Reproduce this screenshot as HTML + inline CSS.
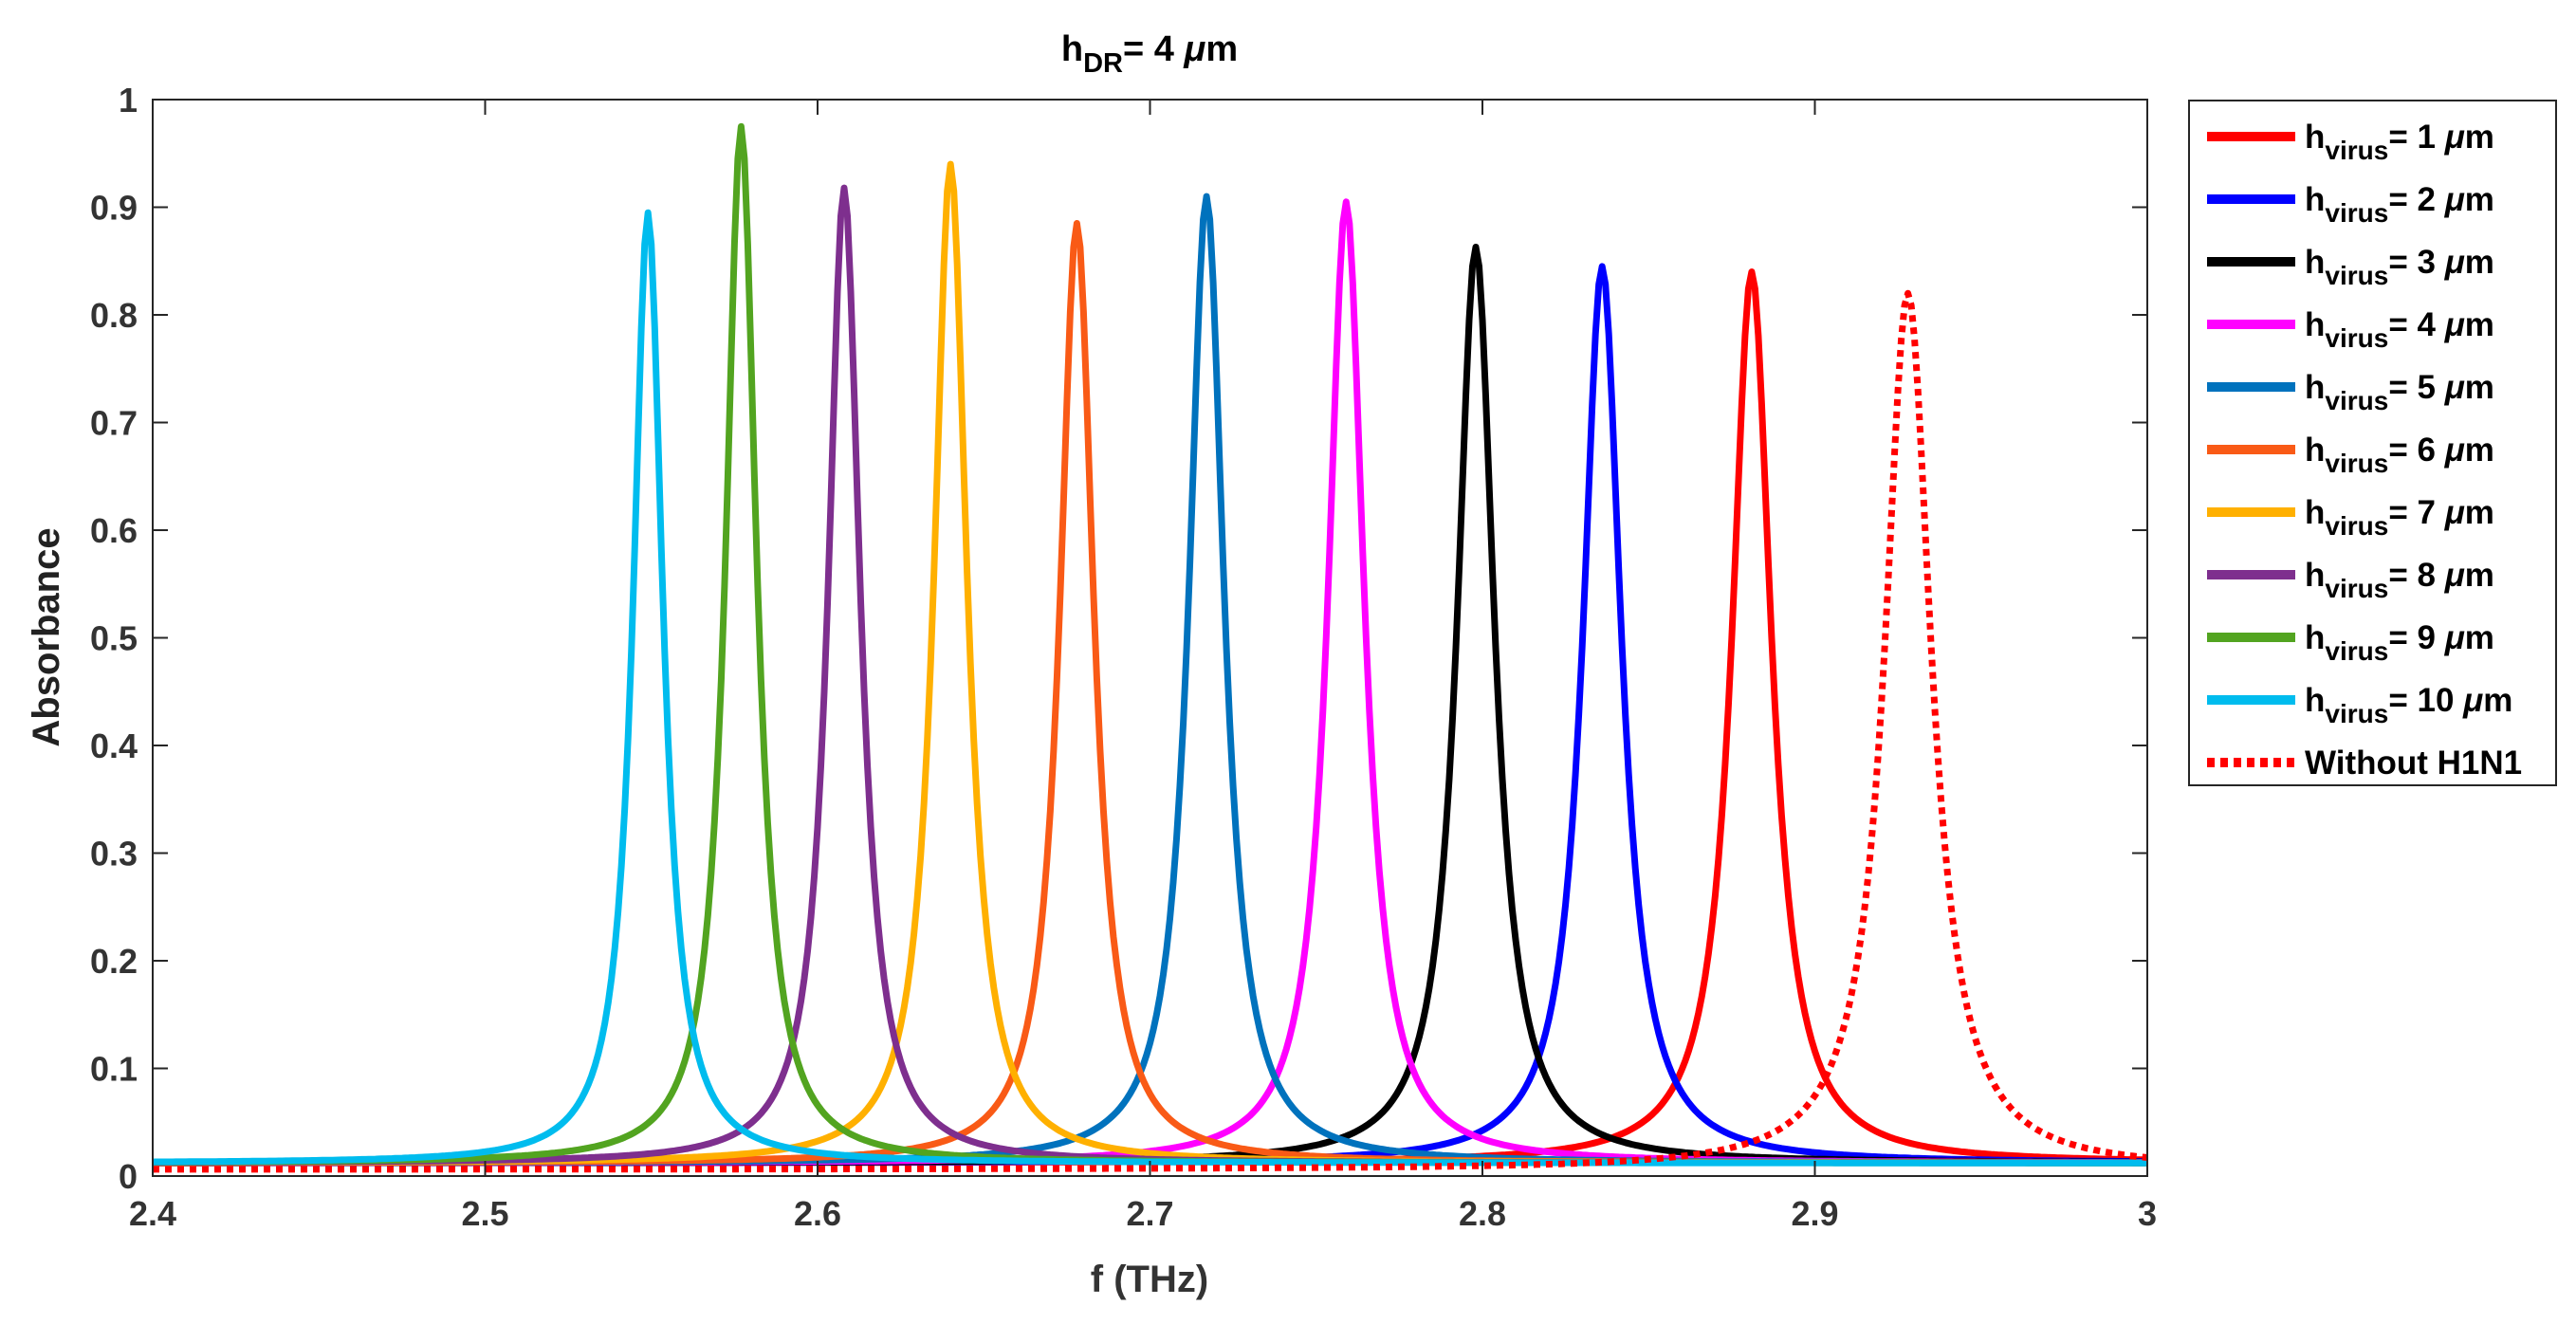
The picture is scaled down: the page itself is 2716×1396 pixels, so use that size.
<!DOCTYPE html>
<html><head><meta charset="utf-8"><style>
html,body{margin:0;padding:0;background:#fff;}
svg{display:block;font-family:"Liberation Sans",Arial,sans-serif;font-weight:bold;}
</style></head><body>
<svg id="chart" width="2716" height="1396" viewBox="0 0 2716 1396" xmlns="http://www.w3.org/2000/svg">
<rect x="0" y="0" width="2716" height="1396" fill="#fff"/>
<text x="1212" y="64" text-anchor="middle" font-size="38" fill="#000">h<tspan font-size="29" dy="12">DR</tspan><tspan dy="-12">= 4 </tspan><tspan font-style="italic">μ</tspan>m</text>
<g id="plot"></g>
<g id="axes"></g>
<text x="1212" y="1362" text-anchor="middle" font-size="40" fill="#333">f (THz)</text>
<text transform="translate(62,672) rotate(-90)" text-anchor="middle" font-size="40" fill="#222">Absorbance</text>
<g id="legend"></g>
</svg>
<script>
const seriesLabels = ["1","2","3","4","5","6","7","8","9","10"];
const peakFreq   = [2.881,2.836,2.798,2.759,2.717,2.678,2.640,2.608,2.577,2.549,2.928];
const peakHeight = [0.840,0.845,0.863,0.905,0.910,0.885,0.940,0.918,0.975,0.895,0.820];
const peakHalfWidth = [0.0072,0.007,0.0068,0.0066,0.0064,0.0062,0.006,0.0058,0.0056,0.0054,0.0085];
const baseLevel = [0.012,0.012,0.012,0.012,0.012,0.012,0.012,0.012,0.012,0.012,0.006];
const xTicks = [2.4,2.5,2.6,2.7,2.8,2.9,3];
const xTickLabels = ["2.4","2.5","2.6","2.7","2.8","2.9","3"];
const yTicks = [0,0.1,0.2,0.3,0.4,0.5,0.6,0.7,0.8,0.9,1];
const yTickLabels = ["0","0.1","0.2","0.3","0.4","0.5","0.6","0.7","0.8","0.9","1"];
const colors = ["#FF0000","#0000FF","#000000","#FF00FF","#0072BD","#F95A16","#FFB000","#7E2F8E","#52A420","#00BCEE","#FF0000"];

const L=161,R=2264,T=105,B=1240;
const xs=v=>L+(v-2.4)/0.6*(R-L);
const ys=v=>B-v*(B-T);
const NS="http://www.w3.org/2000/svg";
function mk(tag,attrs,parent){const e=document.createElementNS(NS,tag);for(const k in attrs)e.setAttribute(k,attrs[k]);parent.appendChild(e);return e;}
const plot=document.getElementById('plot'),axes=document.getElementById('axes'),legend=document.getElementById('legend');

for(let s=0;s<peakFreq.length;s++){
  const fs=[];
  for(let i=0;i<=600;i++)fs.push(2.4+i*0.001);
  fs.push(peakFreq[s]);fs.sort((a,b)=>a-b);
  let d="";
  fs.forEach(f=>{
    const dx=(f-peakFreq[s])/peakHalfWidth[s];
    const v=baseLevel[s]+(peakHeight[s]-baseLevel[s])/(1+dx*dx);
    d+=(d?"L":"M")+xs(f).toFixed(1)+","+ys(v).toFixed(1);
  });
  const p=mk('path',{d:d,fill:'none',stroke:colors[s],'stroke-width':7,'stroke-linejoin':'round'},plot);
  if(s===10)p.setAttribute('stroke-dasharray','7 6');
  
  
}

const box=mk('rect',{x:L,y:T,width:R-L,height:B-T,fill:'none',stroke:'#262626','stroke-width':2},axes);


xTicks.forEach((v,i)=>{
  const x=xs(v);
  const t1=mk('line',{x1:x,y1:B,x2:x,y2:B-16,stroke:'#262626','stroke-width':2},axes);
  
  
  mk('line',{x1:x,y1:T,x2:x,y2:T+16,stroke:'#262626','stroke-width':2},axes);
  const t=mk('text',{x:x,y:B+52,'text-anchor':'middle','font-size':36,fill:'#333'},axes);
  t.textContent=xTickLabels[i];
  
  
});
yTicks.forEach((v,i)=>{
  const y=ys(v);
  const t1=mk('line',{x1:L,y1:y,x2:L+16,y2:y,stroke:'#262626','stroke-width':2},axes);
  
  
  mk('line',{x1:R,y1:y,x2:R-16,y2:y,stroke:'#262626','stroke-width':2},axes);
  const t=mk('text',{x:L-16,y:y+13,'text-anchor':'end','font-size':36,fill:'#333'},axes);
  t.textContent=yTickLabels[i];
  
  
});

const lb=mk('rect',{x:2308,y:106,width:387,height:722,fill:'#fff',stroke:'#262626','stroke-width':2},legend);


for(let s=0;s<11;s++){
  const y=144+s*66;
  const g=mk('g',{},legend);
  
  
  const ln=mk('line',{x1:2327,y1:y,x2:2420,y2:y,stroke:colors[s],'stroke-width':10},g);
  if(s===10)ln.setAttribute('stroke-dasharray','8 6');
  const t=mk('text',{x:2430,y:y+12,'font-size':35,fill:'#000'},g);
  if(s<10){
    t.innerHTML='h<tspan font-size="28" dy="12">virus</tspan><tspan dy="-12">= '+seriesLabels[s]+' </tspan><tspan font-style="italic">μ</tspan>m';
  } else t.textContent='Without H1N1';
}
</script>
</body></html>
